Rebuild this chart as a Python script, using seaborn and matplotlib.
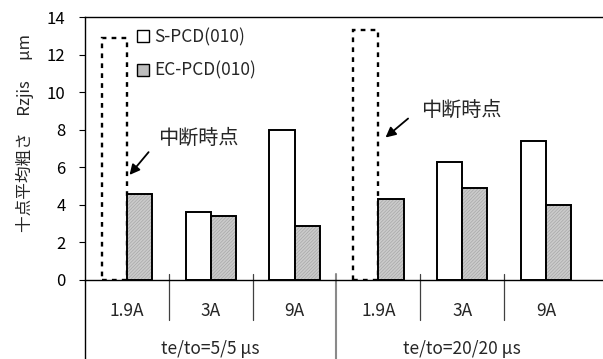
import matplotlib
matplotlib.use("Agg")
import matplotlib.pyplot as plt
from matplotlib.patches import Patch, Rectangle
import seaborn as sns
import pandas as pd

# Surface roughness Rzjis for each discharge current and pulse condition
currents = ["1.9A", "3A", "9A"]
pulse_conditions = ["te/to=5/5 μs", "te/to=20/20 μs"]
series_names = ["S-PCD(010)", "EC-PCD(010)"]
s_pcd = [12.9, 3.6, 8.0, 13.3, 6.3, 7.4]
ec_pcd = [4.6, 3.4, 2.9, 4.3, 4.9, 4.0]
interrupted = [True, False, False, True, False, False]  # S-PCD runs stopped midway

sns.set_theme(style="white")
plt.rcParams["font.family"] = ["Noto Sans CJK JP", "DejaVu Sans"]
plt.rcParams["hatch.linewidth"] = 0.5

conds = [f"{c}|{p}" for p in pulse_conditions for c in currents]
df = pd.DataFrame({
    "cond": conds * 2,
    "value": s_pcd + ec_pcd,
    "series": [series_names[0]] * len(conds) + [series_names[1]] * len(conds),
})

fig = plt.figure(figsize=(6.03, 3.59), dpi=100)
W, H = 603, 359
ax_left, ax_top, ax_zero = 85, 17, 280
ax = fig.add_axes([ax_left / W, 1 - ax_zero / H, 1 - ax_left / W, (ax_zero - ax_top) / H])

sns.barplot(data=df, x="cond", y="value", hue="series", order=conds,
            hue_order=series_names, palette=["white", "#c8c8c8"],
            width=0.6, gap=0, dodge=True, legend=False, ax=ax,
            edgecolor="black", linewidth=1.4, saturation=1)

s_bars, ec_bars = ax.containers[0], ax.containers[1]
for p, stopped in zip(s_bars, interrupted):
    p.set_facecolor("none")
    if stopped:
        p.set_linestyle((0, (2, 2.2)))
        p.set_linewidth(1.7)
for p in ec_bars:
    p.set_facecolor("#cbcbcb")
    p.set_edgecolor("#a8a8a8")
    p.set_hatch("//////////")
    p.set_linewidth(0)
    ax.add_patch(Rectangle(p.get_xy(), p.get_width(), p.get_height(),
                           fill=False, edgecolor="black", linewidth=1.4, zorder=p.get_zorder() + 0.1))

ax.set_ylim(0, 14)
ax.set_xlim(-0.5, 5.68)
ax.set_yticks(range(0, 15, 2))
ax.tick_params(axis="y", which="both", left=True, direction="out", length=4.5, width=0.8,
               labelsize=12, pad=9.5, colors="black")
ax.set_xticks([])
ax.set_xlabel("")
ax.set_ylabel("")
for side in ["left", "top", "bottom"]:
    ax.spines[side].set_color("black")
    ax.spines[side].set_linewidth(1.0)
ax.spines["right"].set_visible(False)

# category table beneath the zero line
ppu = (ax_zero - ax_top) / 14.0
ax.plot([-0.5, -0.5], [0, -(H - ax_zero + 5) / ppu], color="black", lw=1.0, clip_on=False)
for i, c in enumerate(conds):
    ax.text(i, -31 / ppu, c.split("|")[0], ha="center", va="center", fontsize=12.5, clip_on=False)
for b in [0.5, 1.5, 3.5, 4.5]:
    ax.plot([b, b], [6 / ppu, -40 / ppu], color="#404040", lw=0.9, clip_on=False)
ax.plot([2.5, 2.5], [6 / ppu, -(H - ax_zero + 5) / ppu], color="#8a8a8a", lw=1.5, clip_on=False)
for g, p in enumerate(pulse_conditions):
    ax.text(1 + 3 * g, -69 / ppu, p, ha="center", va="center", fontsize=12.5, clip_on=False)

# legend
handles = [Patch(facecolor="white", edgecolor="black", linewidth=1.0),
           Patch(facecolor="#bdbdbd", edgecolor="black", linewidth=1.0)]
ax.legend(handles, series_names, loc="upper left", bbox_to_anchor=(0.087, 0.985),
          frameon=False, fontsize=12.5, handlelength=0.7, handleheight=0.7,
          handletextpad=0.3, labelspacing=0.9, borderaxespad=0)

# interruption markers
for head, tail, txt in [((0.01, 5.48), (0.28, 6.92), (0.37, 7.56)),
                        ((3.06, 7.49), (3.38, 8.69), (3.51, 9.05))]:
    ax.annotate("", xy=head, xytext=tail,
                arrowprops=dict(arrowstyle="-|>", color="black", lw=1.3, mutation_scale=15))
    ax.text(txt[0], txt[1], "中断時点", ha="left", va="center", fontsize=14.5)

fig.text(25 / W, 1 - 133 / H, "十点平均粗さ　Rzjis　 μm", rotation=90,
         ha="center", va="center", fontsize=12)

fig.savefig("out.png", dpi=100)
